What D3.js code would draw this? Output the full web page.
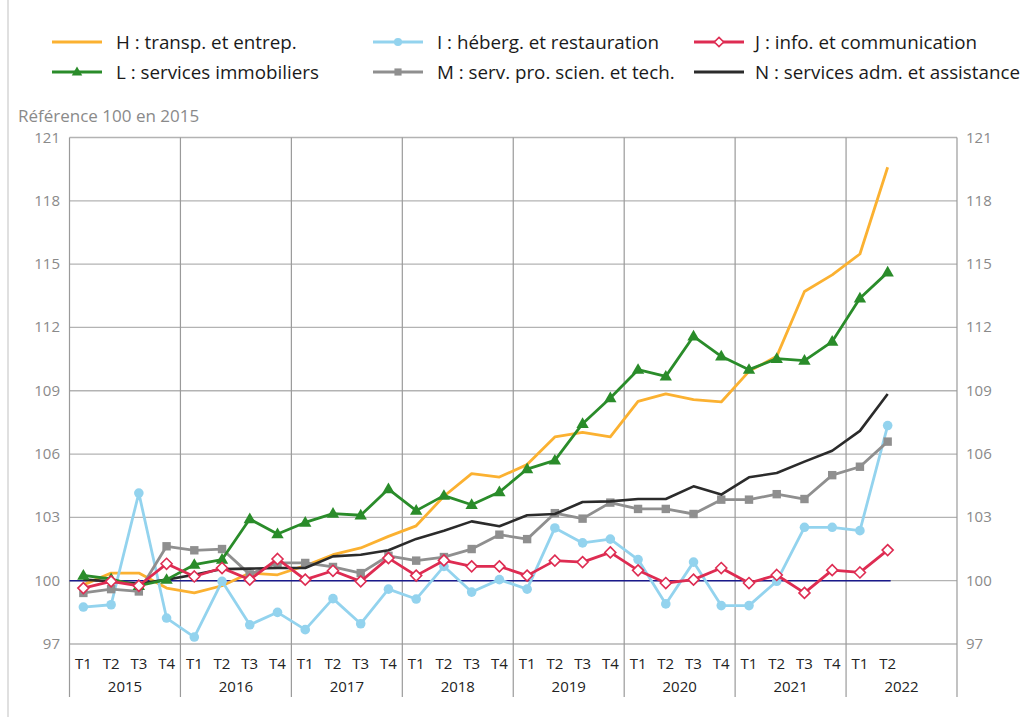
<!DOCTYPE html>
<html><head><meta charset="utf-8">
<script src="https://cdn.jsdelivr.net/npm/d3@7/dist/d3.min.js"></script>
<style>
html,body{margin:0;padding:0;background:#fff;}
svg{display:block;font-family:"Open Sans","Noto Sans",sans-serif;}
</style></head><body>
<svg id="chart" width="1024" height="717"></svg>
<script>
const years = ["2015","2016","2017","2018","2019","2020","2021","2022"];
const quarterLabels = ["T1","T2","T3","T4"];
const yTicks = [97,100,103,106,109,112,115,118,121];
const unitLabel = "Référence 100 en 2015";

const H = [99.8,100.36,100.36,99.65, 99.42,99.76,100.36,100.28, 100.71,101.23,101.55,102.1, 102.6,104.0,105.07,104.91, 105.5,106.81,107.03,106.81, 108.5,108.85,108.58,108.47, 109.92,110.63,113.7,114.49, 115.48,119.59];
const I = [98.75,98.86,104.15,98.23, 97.33,99.97,97.91,98.5, 97.68,99.15,97.96,99.6, 99.13,100.68,99.46,100.05, 99.6,102.5,101.79,101.97, 101.0,98.9,100.88,98.82, 98.82,99.97,102.53,102.53, 102.37,107.35];
const J = [99.65,99.97,99.76,100.8, 100.2,100.6,100.05,101.03, 100.05,100.47,99.97,101.07, 100.24,100.96,100.68,100.68, 100.24,100.95,100.88,101.34, 100.49,99.89,100.05,100.6, 99.89,100.27,99.42,100.5, 100.39,101.45];
const L = [100.25,100.08,99.76,100.05, 100.76,101.0,102.92,102.21, 102.76,103.18,103.1,104.34, 103.32,104.03,103.6,104.2, 105.29,105.7,107.44,108.66, 110.0,109.68,111.58,110.63, 110.0,110.52,110.43,111.33, 113.38,114.61];
const M = [99.42,99.6,99.49,101.63, 101.44,101.5,100.3,100.84, 100.84,100.65,100.36,101.18, 100.95,101.12,101.5,102.18, 101.97,103.2,102.94,103.7, 103.4,103.4,103.16,103.84, 103.84,104.1,103.87,105.0, 105.4,106.59];
const N = [100.05,99.97,99.85,100.05, 100.28,100.55,100.57,100.6, 100.6,101.15,101.23,101.44, 101.98,102.37,102.81,102.58, 103.1,103.16,103.73,103.76, 103.87,103.87,104.47,104.08, 104.9,105.1,105.64,106.16, 107.1,108.85];

const seriesNames = ["H : transp. et entrep.","I : héberg. et restauration","J : info. et communication","L : services immobiliers","M : serv. pro. scien. et tech.","N : services adm. et assistance"];
const seriesColors = ["#fbb131","#93d3ee","#de2c52","#2a8c2a","#8f8f8f","#2b2b2b"];
const seriesMarkers = ["none","circle","diamond","triangle","square","none"];
const seriesData = [H,I,J,L,M,N];

const svg = d3.select("#chart");
const pL = 69.5, pR = 957, pT = 137.5, pB = 644;
const nSlots = years.length * 4;
const x = d3.scaleBand().domain(d3.range(nSlots)).range([pL, pR]).padding(0);
const y = d3.scaleLinear().domain([97,121]).range([pB, pT]);
const cx = i => x(i) + x.bandwidth()/2;

// outer left border
svg.append("line").attr("x1",8).attr("x2",8).attr("y1",0).attr("y2",717).attr("stroke","#e0e0e0").attr("stroke-width",2);

// horizontal grid
svg.append("g").selectAll("line").data(yTicks).join("line")
  .attr("x1",pL).attr("x2",pR).attr("y1",d=>y(d)).attr("y2",d=>y(d))
  .attr("stroke","#b3b3b3").attr("stroke-width",1.3);

// vertical year separators (incl. borders)
const sepIdx = d3.range(0, nSlots+1, 4);
svg.append("g").selectAll("line").data(sepIdx).join("line")
  .attr("x1",d=> d===nSlots ? pR : x(d)).attr("x2",d=> d===nSlots ? pR : x(d))
  .attr("y1",pT).attr("y2",697)
  .attr("stroke","#9a9a9a").attr("stroke-width",1.2);

// y tick labels
const yl = svg.append("g").attr("font-size",15).attr("fill","#8a8a8a");
yl.selectAll("text.l").data(yTicks).join("text").attr("class","l")
  .attr("x",60).attr("y",d=>y(d)+5).attr("text-anchor","end").text(d=>d);
yl.selectAll("text.r").data(yTicks).join("text").attr("class","r")
  .attr("x",966).attr("y",d=>y(d)+5).attr("text-anchor","start").text(d=>d);

svg.append("text").attr("x",18).attr("y",122).attr("font-size",17).attr("fill","#8a8a8a").text(unitLabel);

// x labels
const nData = H.length;
svg.append("g").selectAll("text").data(d3.range(nData)).join("text")
  .attr("x",i=>cx(i)).attr("y",669).attr("text-anchor","middle")
  .attr("font-size",15).attr("fill","#222").text(i=>quarterLabels[i%4]);
svg.append("g").selectAll("text").data(years).join("text")
  .attr("x",(d,k)=> (x(k*4) + (k*4+4>=nSlots? pR : x(k*4+4)))/2).attr("y",692).attr("text-anchor","middle")
  .attr("font-size",15).attr("fill","#222").text(d=>d);

// baseline 100
svg.append("line").attr("x1",pL).attr("x2",cx(nData-1)+3).attr("y1",y(100)).attr("y2",y(100))
  .attr("stroke","#1a1a8c").attr("stroke-width",1.4);

function drawMarker(g, type, color, px, py, s){
  if(type==="circle"){
    g.append("circle").attr("cx",px).attr("cy",py).attr("r",4.8*s).attr("fill",color);
  } else if(type==="diamond"){
    const r=5.5*s;
    g.append("path").attr("d",`M${px},${py-r}L${px+r},${py}L${px},${py+r}L${px-r},${py}Z`)
      .attr("fill","#fff").attr("stroke",color).attr("stroke-width",1.6);
  } else if(type==="triangle"){
    const r=6.5*s;
    g.append("path").attr("d",`M${px},${py-r}L${px+r*0.95},${py+r*0.65}L${px-r*0.95},${py+r*0.65}Z`).attr("fill",color);
  } else if(type==="square"){
    const r=4.2*s;
    g.append("rect").attr("x",px-r).attr("y",py-r).attr("width",2*r).attr("height",2*r).attr("fill",color);
  }
}

const line = d3.line().x((d,i)=>cx(i)).y(d=>y(d));
const order = [0,1,4,5,3,2];
order.forEach(k=>{
  const g = svg.append("g");
  g.append("path").datum(seriesData[k]).attr("d",line).attr("fill","none")
    .attr("stroke",seriesColors[k]).attr("stroke-width",k===5?2.6:2.8).attr("stroke-linejoin","round");
  if(seriesMarkers[k]!=="none"){
    seriesData[k].forEach((v,i)=>drawMarker(g,seriesMarkers[k],seriesColors[k],cx(i),y(v),1));
  }
});

// legend
const legX = [52,373,694], legTextX=[116,437,755], legY=[42,72];
seriesNames.forEach((name,k)=>{
  const col=k%3,row=Math.floor(k/3);
  const g=svg.append("g");
  const x1=legX[col], x2=legX[col]+50, yy=legY[row];
  g.append("line").attr("x1",x1).attr("x2",x2).attr("y1",yy).attr("y2",yy).attr("stroke",seriesColors[k]).attr("stroke-width",3);
  if(seriesMarkers[k]!=="none") drawMarker(g,seriesMarkers[k],seriesColors[k],(x1+x2)/2,yy,0.85);
  g.append("text").attr("x",legTextX[col]).attr("y",yy+6.5).attr("font-size",18.8).attr("fill","#1a1a1a").text(name);
});
</script>
</body></html>
